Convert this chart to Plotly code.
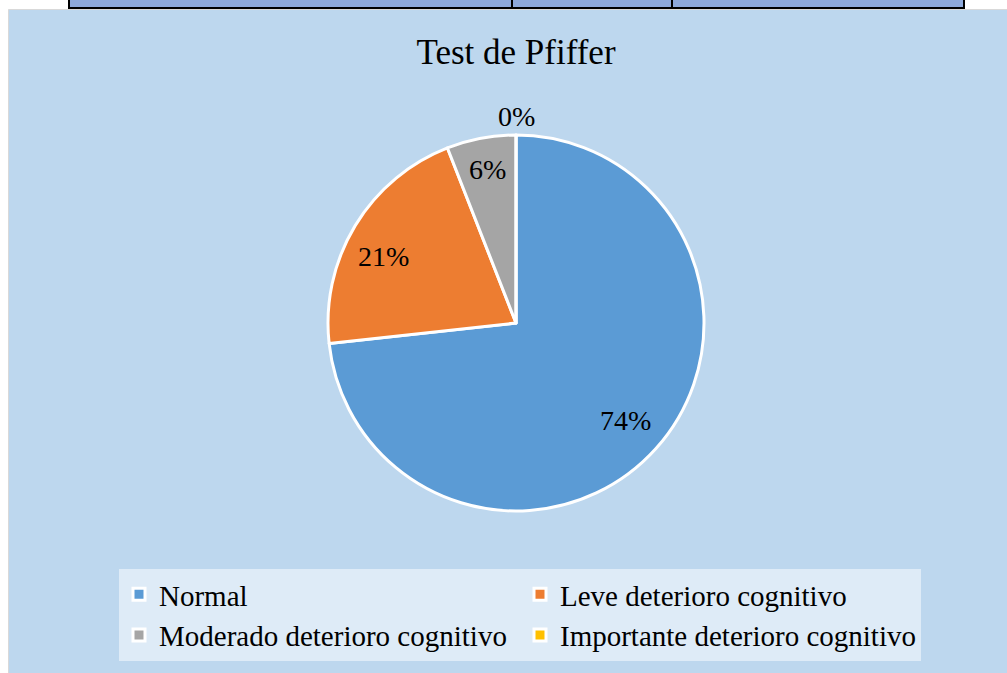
import math
import plotly.graph_objects as go

# ---- data ----
categories = ["Normal", "Leve deterioro cognitivo", "Moderado deterioro cognitivo", "Importante deterioro cognitivo"]
percent_values = [74, 21, 6, 0]
slice_colors = ["#5B9BD5", "#ED7D31", "#A5A5A5", "#FFC000"]
title_text = "Test de Pfiffer"

W, H = 1007, 673
SERIF = "Liberation Serif, Times New Roman, serif"

def px(x):
    return x / W

def py(y):
    return 1 - y / H

# pie geometry (pixels)
CX, CY, R = 516, 323, 188

fig = go.Figure()
fig.add_trace(go.Pie(
    labels=categories,
    values=percent_values,
    sort=False,
    direction="clockwise",
    rotation=0,
    marker=dict(colors=slice_colors, line=dict(color="white", width=3)),
    textinfo="none",
    domain=dict(x=[px(CX - R), px(CX + R)], y=[py(CY + R), py(CY - R)]),
    showlegend=True,
    hoverinfo="label+percent",
))

# data labels placed along each slice's mid-angle (Office "best fit" look)
label_radius = [0.78, 0.79, 0.83, 1.10]
label_angle_shift = [0.0, -0.08, 0.0, 0.0]  # radians
total = sum(percent_values)
annotations = []
cum = 0.0
for v, rf, da in zip(percent_values, label_radius, label_angle_shift):
    mid = (cum + v / 2) / total * 2 * math.pi + da
    cum += v
    lx = CX + rf * R * math.sin(mid)
    ly = CY - rf * R * math.cos(mid)
    annotations.append(dict(
        text=f"{v}%", xref="paper", yref="paper", x=px(lx), y=py(ly),
        xanchor="center", yanchor="middle", showarrow=False,
        font=dict(family=SERIF, size=28, color="black"),
    ))

shapes = [
    # chart area
    dict(type="rect", xref="paper", yref="paper", x0=px(8.5), x1=px(1010), y0=py(680), y1=py(9.5),
         fillcolor="#BDD7EE", line=dict(color="#D9D9D9", width=1), layer="below"),
    # table strip at top
    dict(type="rect", xref="paper", yref="paper", x0=px(69), x1=px(964), y0=py(8), y1=py(-5),
         fillcolor="#8EA9DB", line=dict(color="black", width=2), layer="below"),
    dict(type="line", xref="paper", yref="paper", x0=px(512), x1=px(512), y0=py(8), y1=py(0),
         line=dict(color="black", width=2), layer="below"),
    dict(type="line", xref="paper", yref="paper", x0=px(672), x1=px(672), y0=py(8), y1=py(0),
         line=dict(color="black", width=2), layer="below"),
]

fig.update_layout(
    width=W, height=H,
    margin=dict(l=0, r=0, t=0, b=0),
    paper_bgcolor="white",
    plot_bgcolor="rgba(0,0,0,0)",
    title=dict(text=title_text, x=px(516), xanchor="center", y=py(52), yanchor="middle",
               font=dict(family=SERIF, size=35, color="black")),
    legend=dict(
        orientation="h", x=px(119), xanchor="left", y=py(569), yanchor="top",
        bgcolor="#DEEBF7", font=dict(family=SERIF, size=29, color="black"),
        entrywidth=356, entrywidthmode="pixels", traceorder="normal",
    ),
    shapes=shapes,
    annotations=annotations,
)

fig.write_html("out.html",
               config={"displayModeBar": False},
               post_script="document.body.style.margin='0';document.body.style.padding='0';"
                           "document.body.style.overflow='hidden';")
